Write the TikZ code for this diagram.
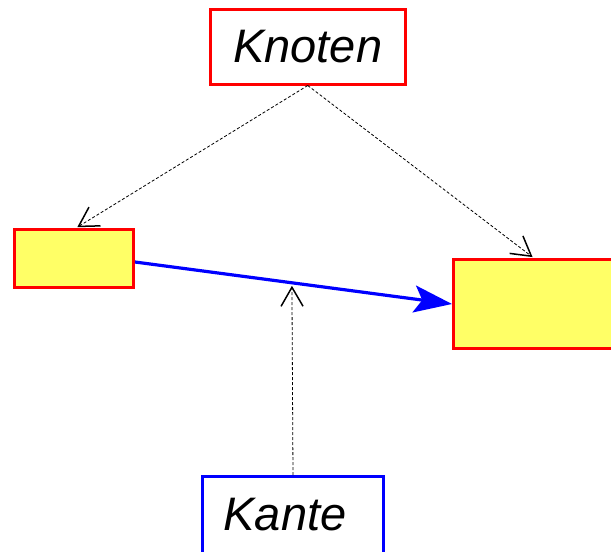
\documentclass[tikz,border=0pt]{standalone}
\usepackage{fontspec}
\setmainfont{Liberation Sans}
\usetikzlibrary{arrows.meta}
\definecolor{boxyellow}{RGB}{255,255,102}
\tikzset{
  redbox/.style={draw=red, line width=3pt, inner sep=0pt},
  fillbox/.style={redbox, fill=boxyellow},
  bluebox/.style={draw=blue, line width=3pt, fill=white, inner sep=0pt},
  bigtext/.style={font=\itshape\fontsize{47}{50}\selectfont},
  edgearrow/.style={draw=blue, line width=3.2pt,
    -{Stealth[length=38pt, width=27pt, inset=8pt]}},
  pointer/.style={draw=black, line width=0.8pt, dash pattern=on 3pt off 2pt,
    -{Straight Barb[length=19pt, width=22pt, line width=1.5pt]}, shorten >=1.5pt}
}
\begin{document}
\begin{tikzpicture}[x=1pt, y=-1pt]
  \useasboundingbox (0,0) rectangle (611,552);
  \begin{scope}
    \clip (0,0) rectangle (611,552);
    % labels
    \node[redbox, bigtext, minimum width=194.5pt, minimum height=75pt] (knoten) at (307.75,46.5) {Knoten};
    \node[bluebox, minimum width=181pt, minimum height=76.5pt] (kante) at (293,514.75) {};
    \node[bigtext, inner sep=0pt] (kantetext) at (285,514.75) {Kante};
    % graph nodes
    \node[fillbox, minimum width=119pt, minimum height=58pt] (lb) at (74,258.5) {};
    \node[fillbox, minimum width=160.5pt, minimum height=89pt] (rb) at (533.75,304) {};
    % the edge
    \draw[edgearrow] ([yshift=-3.5pt]lb.east) -- coordinate[pos=0.495] (mid) (rb.west);
    % pointers from the labels
    \draw[pointer] (knoten.south) -- ([xshift=2pt]lb.north);
    \draw[pointer] (knoten.south) -- (rb.north);
    \draw[pointer] (kante.north) -- ([yshift=-1.5pt]mid);
  \end{scope}
\end{tikzpicture}
\end{document}
